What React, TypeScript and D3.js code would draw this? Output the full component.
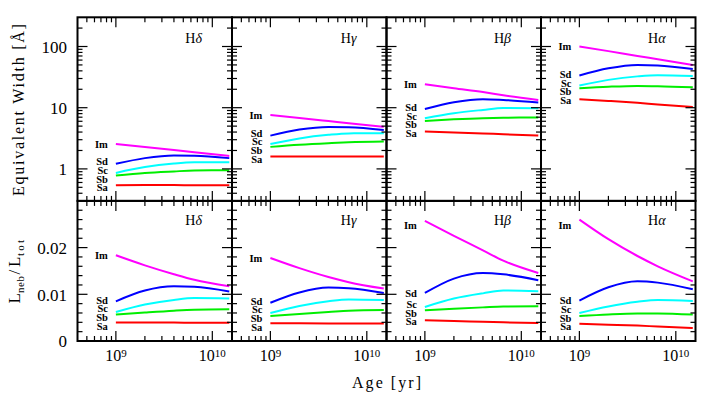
import React from "react";
import * as d3 from "d3";

// ---------- data ----------
const ages = [1e9, 2e9, 4e9, 6.5e9, 1.5e10];
const types = ["Sa", "Sb", "Sc", "Sd", "Im"];
const typeColors = ["#ff0000", "#00ee00", "#00ffff", "#0000ff", "#ff00ff"];
const lineGreek = ["δ", "γ", "β", "α"];

// Equivalent widths [Å] — rows: Sa, Sb, Sc, Sd, Im
const ewHdelta = [
  [0.54, 0.545, 0.545, 0.54, 0.54],
  [0.78, 0.86, 0.91, 0.94, 0.95],
  [0.86, 1.07, 1.22, 1.28, 1.29],
  [1.21, 1.5, 1.66, 1.64, 1.5],
  [2.56, 2.28, 2.03, 1.87, 1.63],
];
const ewHgamma = [
  [1.6, 1.6, 1.6, 1.6, 1.59],
  [2.29, 2.48, 2.63, 2.72, 2.8],
  [2.56, 3.15, 3.6, 3.8, 3.83],
  [3.5, 4.4, 4.86, 4.8, 4.34],
  [7.6, 6.8, 6.05, 5.57, 4.86],
];
const ewHbeta = [
  [4.08, 3.95, 3.8, 3.68, 3.51],
  [6.08, 6.45, 6.74, 6.85, 6.92],
  [6.74, 8.13, 9.2, 9.9, 9.8],
  [9.55, 12.3, 13.8, 13.4, 12.2],
  [24.2, 20.8, 18.0, 16.0, 13.4],
];
const ewHalpha = [
  [13.8, 12.9, 12.0, 11.3, 10.3],
  [20.8, 22.0, 22.7, 22.5, 21.6],
  [23.0, 28.5, 32.5, 34.0, 33.0],
  [33.6, 44.0, 50.0, 49.0, 43.0],
  [100, 84, 70, 62, 50],
];

// L_neb / L_tot — rows: Sa, Sb, Sc, Sd, Im
const fracHdelta = [
  [0.00394, 0.00394, 0.00394, 0.0039, 0.0039],
  [0.00565, 0.0061, 0.0065, 0.0067, 0.0068],
  [0.0062, 0.0078, 0.0088, 0.0092, 0.0091],
  [0.0085, 0.0108, 0.0117, 0.0116, 0.01058],
  [0.01835, 0.0162, 0.0143, 0.0131, 0.0117],
];
const fracHgamma = [
  [0.00379, 0.00378, 0.00377, 0.00376, 0.00375],
  [0.00535, 0.0058, 0.0062, 0.0065, 0.00664],
  [0.006, 0.0075, 0.0085, 0.0089, 0.00878],
  [0.0082, 0.0104, 0.01143, 0.0113, 0.01028],
  [0.01777, 0.0156, 0.0137, 0.0126, 0.01122],
];
const fracHbeta = [
  [0.00443, 0.0043, 0.0041, 0.004, 0.00385],
  [0.00657, 0.0069, 0.0072, 0.0074, 0.00743],
  [0.00728, 0.00908, 0.0102, 0.0108, 0.01064],
  [0.01028, 0.01336, 0.01456, 0.01428, 0.013],
  [0.0257, 0.0225, 0.0194, 0.0172, 0.01456],
];
const fracHalpha = [
  [0.00372, 0.0035, 0.0033, 0.0031, 0.00278],
  [0.00535, 0.0057, 0.0059, 0.0059, 0.00565],
  [0.006, 0.0074, 0.0084, 0.0088, 0.00857],
  [0.00865, 0.0115, 0.01278, 0.0125, 0.01107],
  [0.026, 0.0218, 0.0182, 0.016, 0.01278],
];

const ewPanels = [ewHdelta, ewHgamma, ewHbeta, ewHalpha];
const fracPanels = [fracHdelta, fracHgamma, fracHbeta, fracHalpha];

const ewTickValues = [1, 10, 100];
const ewTickLabels = ["1", "10", "100"];
const fracTickValues = [0, 0.01, 0.02];
const fracTickLabels = ["0", "0.01", "0.02"];
const ageTickValues = [1e9, 1e10];
const ageTickExponents = ["9", "10"];

// ---------- layout ----------
const W = 706;
const H = 402;
const LEFT = 77.5;
const TOP = 17.3;
const PW = 154.5;
const HTOP = 183.6;
const HBOT = 140.1;
const SERIF = "'Liberation Serif', 'Times New Roman', serif";

const x = d3.scaleLog().domain([4e8, 1.6e10]).range([0, PW]);
const yTop = d3.scaleLog().domain([0.3, 300]).range([HTOP, 0]);
const yBot = d3.scaleLinear().domain([0, 0.03]).range([HBOT, 0]);

const isDecade = (v: number) => Math.abs(Math.log10(v) - Math.round(Math.log10(v))) < 1e-6;

function spreadLabels(ys: number[], gap: number, minY: number): number[] {
  const items = ys.map((y, i) => ({ i, y: Math.max(y, minY) })).sort((a, b) => a.y - b.y);
  let clusters = items.map((it) => ({ members: [it], center: it.y }));
  const pos = (c: any) => c.members.map((_: any, k: number) => c.center + (k - (c.members.length - 1) / 2) * gap);
  let changed = true;
  while (changed) {
    changed = false;
    for (let k = 0; k < clusters.length - 1; k++) {
      const a = clusters[k];
      const b = clusters[k + 1];
      const pa = pos(a);
      const pb = pos(b);
      if (pb[0] - pa[pa.length - 1] < gap - 1e-6) {
        const members = [...a.members, ...b.members];
        const center = d3.mean(members, (m: any) => m.y) as number;
        clusters.splice(k, 2, { members, center });
        changed = true;
        break;
      }
    }
  }
  const out: number[] = new Array(ys.length);
  clusters.forEach((c) => {
    const p = pos(c);
    c.members.forEach((m: any, k: number) => (out[m.i] = p[k]));
  });
  return out;
}

function Panel({ px, py, ph, yScale, data, greek, log, showYLabels, showXLabels, titleY }: any) {
  const majorLen = 10;
  const minorLen = 5;
  const xTicks = (x.ticks() as number[]).filter((v) => v > 4.01e8 && v < 1.6e10);
  let yTicks: { v: number; major: boolean }[];
  if (log) {
    yTicks = (yScale.ticks() as number[])
      .filter((v) => v > 0.301 && v < 299)
      .map((v) => ({ v, major: isDecade(v) }));
  } else {
    yTicks = (yScale.ticks(15) as number[])
      .filter((v) => v > 1e-9 && v < 0.0299)
      .map((v) => ({ v, major: Math.abs(v / 0.01 - Math.round(v / 0.01)) < 1e-6 }));
  }
  const line = d3
    .line<number>()
    .x((_, i) => x(ages[i]))
    .y((d) => yScale(d))
    .curve(d3.curveMonotoneX);

  const startYs = data.map((row: number[]) => yScale(row[0]));
  const labelYs = spreadLabels(startYs, 8.6, 24);

  return (
    <g transform={`translate(${px},${py})`}>
      <defs>
        <clipPath id={`clip-${px}-${py}`}>
          <rect x={0} y={0} width={PW} height={ph} />
        </clipPath>
      </defs>
      {data.map((row: number[], k: number) => (
        <path
          key={k}
          d={line(row) as string}
          fill="none"
          stroke={typeColors[k]}
          strokeWidth={2}
          clipPath={`url(#clip-${px}-${py})`}
        />
      ))}
      {data.map((row: number[], k: number) => (
        <text
          key={"l" + k}
          x={x(ages[0]) - 8}
          y={labelYs[k] + 4}
          textAnchor="end"
          fontFamily={SERIF}
          fontWeight="bold"
          fontSize={10.5}
          fill="#000"
        >
          {types[k]}
        </text>
      ))}
      <text x={PW - 30} y={titleY} textAnchor="end" fontFamily={SERIF} fontSize={14} fill="#000">
        H<tspan fontStyle="italic">{greek}</tspan>
      </text>
      {xTicks.map((v) => {
        const len = isDecade(v) ? majorLen : minorLen;
        const xx = x(v);
        return (
          <g key={"xt" + v}>
            <line x1={xx} x2={xx} y1={ph} y2={ph - len} stroke="#000" strokeWidth={1.2} />
            <line x1={xx} x2={xx} y1={0} y2={len} stroke="#000" strokeWidth={1.2} />
          </g>
        );
      })}
      {yTicks.map(({ v, major }) => {
        const len = major ? majorLen : minorLen;
        const yy = yScale(v);
        return (
          <g key={"yt" + v}>
            <line x1={0} x2={len} y1={yy} y2={yy} stroke="#000" strokeWidth={1.2} />
            <line x1={PW} x2={PW - len} y1={yy} y2={yy} stroke="#000" strokeWidth={1.2} />
          </g>
        );
      })}
      <rect x={0} y={0} width={PW} height={ph} fill="none" stroke="#000" strokeWidth={2} />
      {showYLabels &&
        (log ? ewTickValues : fracTickValues).map((v: number, i: number) => (
          <text
            key={"yl" + v}
            x={-10.5}
            y={yScale(v) + 6.5}
            textAnchor="end"
            fontFamily={SERIF}
            fontSize={17}
            fill="#000"
          >
            {(log ? ewTickLabels : fracTickLabels)[i]}
          </text>
        ))}
      {showXLabels &&
        ageTickValues.map((v, i) => (
          <text
            key={"xl" + v}
            x={x(v)}
            y={ph + 20.5}
            textAnchor="middle"
            fontFamily={SERIF}
            fontSize={16}
            fill="#000"
          >
            10
            <tspan fontSize={11} dy={-4}>
              {ageTickExponents[i]}
            </tspan>
          </text>
        ))}
    </g>
  );
}

export default function App() {
  const bottomTop = TOP + HTOP;
  return (
    <svg
      width={W}
      height={H}
      viewBox={`0 0 ${W} ${H}`}
      style={{ position: "absolute", left: 0, top: 0, background: "#fff" }}
    >
      <rect x={0} y={0} width={W} height={H} fill="#fff" />
      {lineGreek.map((g, i) => (
        <Panel
          key={"t" + i}
          px={LEFT + i * PW}
          py={TOP}
          ph={HTOP}
          yScale={yTop}
          data={ewPanels[i]}
          greek={g}
          log={true}
          showYLabels={i === 0}
          showXLabels={false}
          titleY={26}
        />
      ))}
      {lineGreek.map((g, i) => (
        <Panel
          key={"b" + i}
          px={LEFT + i * PW}
          py={bottomTop}
          ph={HBOT}
          yScale={yBot}
          data={fracPanels[i]}
          greek={g}
          log={false}
          showYLabels={i === 0}
          showXLabels={true}
          titleY={24}
        />
      ))}
      <text
        transform={`translate(24,${TOP + HTOP / 2 + 1}) rotate(-90)`}
        textAnchor="middle"
        fontFamily={SERIF}
        fontSize={16}
        textLength={172}
        lengthAdjust="spacing"
        fill="#000"
      >
        Equivalent Width [Å]
      </text>
      <g transform={`translate(20,303.5) rotate(-90)`} fontFamily={SERIF} fill="#000">
        <text x={0} y={0} fontSize={17}>L</text>
        <text x={10.5} y={3.5} fontSize={11} textLength={17} lengthAdjust="spacing">neb</text>
        <text x={29} y={0} fontSize={17}>/</text>
        <text x={36.5} y={0} fontSize={17}>L</text>
        <text x={47.5} y={3.5} fontSize={11} textLength={16} lengthAdjust="spacing">tot</text>
      </g>
      <text
        x={LEFT + 2 * PW}
        y={387.5}
        textAnchor="middle"
        fontFamily={SERIF}
        fontSize={16}
        textLength={69}
        lengthAdjust="spacing"
        fill="#000"
      >
        Age [yr]
      </text>
    </svg>
  );
}
